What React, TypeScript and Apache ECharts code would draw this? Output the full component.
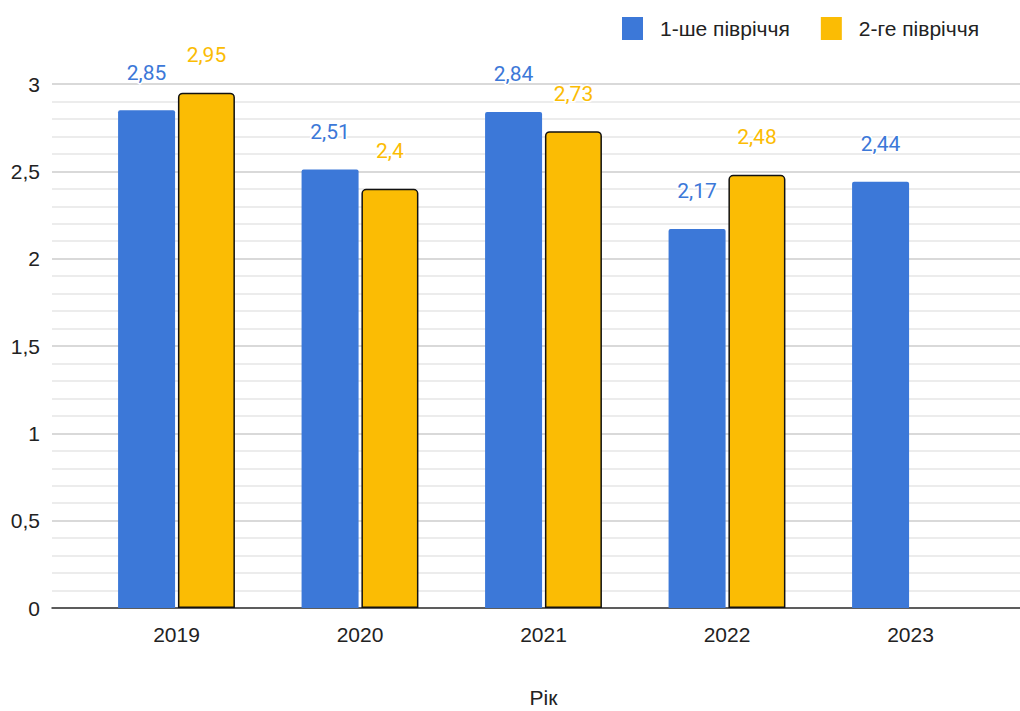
import React, { useEffect, useRef } from "react";
import * as echarts from "echarts";

const years = ["2019", "2020", "2021", "2022", "2023"];
const firstHalf = [2.85, 2.51, 2.84, 2.17, 2.44];
const secondHalf: (number | null)[] = [2.95, 2.4, 2.73, 2.48, null];
const seriesNames = ["1-ше півріччя", "2-ге півріччя"];
const axisTitle = "Рік";

const BLUE = "#3c78d8";
const YELLOW = "#fbbc04";
const LABEL_FONT = "Roboto";
const AXIS_FONT = "Liberation Sans";

export default function App() {
  const ref = useRef<HTMLDivElement>(null);
  useEffect(() => {
    if (!ref.current) return;
    const chart = echarts.init(ref.current, null, { renderer: "svg" });
    const fmt = (v: number) => String(v).replace(".", ",");
    const labelCommon = {
      show: true,
      position: "top" as const,
      distance: 27,
      fontFamily: LABEL_FONT,
      fontSize: 21,
      textBorderColor: "#fff",
      textBorderWidth: 3,
      formatter: (p: any) => fmt(p.value),
    };
    chart.setOption({
      animation: false,
      textStyle: { fontFamily: AXIS_FONT },
      legend: {
        left: 617,
        top: 12,
        itemWidth: 21,
        itemHeight: 23,
        itemGap: 31,
        icon: "rect",
        textStyle: { fontFamily: AXIS_FONT, fontSize: 21, color: "#222", padding: [0, 0, 0, 12] },
        data: seriesNames.map((n) => ({ name: n, itemStyle: { borderWidth: 0 } })),
      },
      grid: [
        { left: 52, right: 0, top: 84, bottom: 103, outerBoundsMode: "none", containLabel: false },
        { left: 84.75, right: 17.75, top: 84, bottom: 103, outerBoundsMode: "none", containLabel: false },
      ],
      xAxis: [
        {
          type: "category",
          gridIndex: 0,
          data: [""],
          axisLine: { show: true, lineStyle: { color: "#333", width: 1.5 } },
          axisTick: { show: false },
          axisLabel: { show: false },
        },
        {
          type: "category",
          gridIndex: 1,
          data: years,
          axisLine: { show: false },
          axisTick: { show: false },
          axisLabel: { fontFamily: AXIS_FONT, fontSize: 21, color: "#222", margin: 16 },
          name: axisTitle,
          nameLocation: "middle",
          nameGap: 79,
          nameTextStyle: { fontFamily: AXIS_FONT, fontSize: 21, color: "#222" },
        },
      ],
      yAxis: [
        {
          type: "value",
          gridIndex: 0,
          min: 0,
          max: 3,
          interval: 0.5,
          axisLine: { show: false },
          axisTick: { show: false },
          axisLabel: {
            fontFamily: AXIS_FONT,
            fontSize: 21,
            color: "#222",
            margin: 12,
            formatter: (v: number) => fmt(v),
          },
          splitLine: { show: true, lineStyle: { color: "#cccccc", width: 1.5 } },
          minorTick: { show: false, splitNumber: 5 },
          minorSplitLine: { show: true, lineStyle: { color: "#e6e6e6", width: 1.5 } },
        },
        {
          type: "value",
          gridIndex: 1,
          min: 0,
          max: 3,
          interval: 0.5,
          show: false,
          splitLine: { show: false },
        },
      ],
      series: [
        {
          name: seriesNames[0],
          type: "bar",
          xAxisIndex: 1,
          yAxisIndex: 1,
          data: firstHalf,
          barWidth: 57,
          barGap: "5%",
          itemStyle: { color: BLUE, borderRadius: [2, 2, 0, 0] },
          label: { ...labelCommon, color: BLUE },
        },
        {
          name: seriesNames[1],
          type: "bar",
          xAxisIndex: 1,
          yAxisIndex: 1,
          data: secondHalf,
          barWidth: 57,
          barGap: "5%",
          itemStyle: { color: YELLOW, borderColor: "#111", borderWidth: 1.5, borderRadius: [4, 4, 0, 0] },
          label: { ...labelCommon, color: YELLOW },
        },
      ],
    });
    return () => chart.dispose();
  }, []);
  return (
    <div
      ref={ref}
      style={{ position: "fixed", left: 0, top: 0, width: 1020, height: 711, background: "#fff" }}
    />
  );
}
